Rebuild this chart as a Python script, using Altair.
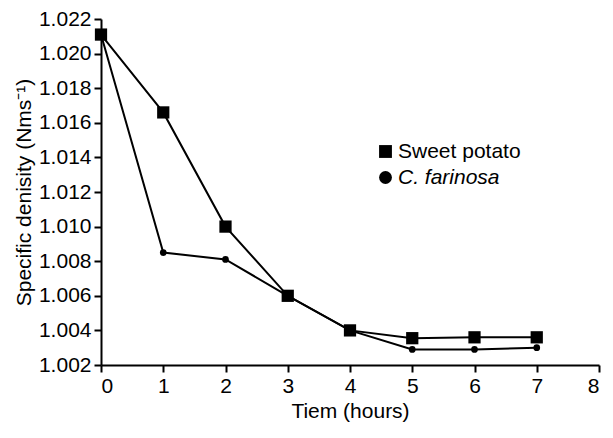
import altair as alt
import pandas as pd

hours = [0, 1, 2, 3, 4, 5, 6, 7]
sweet_potato = [1.0211, 1.0166, 1.0100, 1.0060, 1.0040, 1.00355, 1.00360, 1.00360]
c_farinosa = [1.0211, 1.0085, 1.0081, 1.0060, 1.0040, 1.0029, 1.0029, 1.0030]
series_names = ["Sweet potato", "C. farinosa"]
x_ticks = [0, 1, 2, 3, 4, 5, 6, 7, 8]
y_ticks = [1.002, 1.004, 1.006, 1.008, 1.010, 1.012, 1.014, 1.016, 1.018, 1.020, 1.022]

rows = []
for h, v in zip(hours, sweet_potato):
    rows.append({"hours": h, "density": v, "series": series_names[0]})
for h, v in zip(hours, c_farinosa):
    rows.append({"hours": h, "density": v, "series": series_names[1]})
df = pd.DataFrame(rows)

FONT = "Liberation Sans"
FS = 21

x = alt.X("hours:Q", scale=alt.Scale(domain=[0, 8], nice=False),
          axis=alt.Axis(values=x_ticks, format="d", title="Tiem (hours)", grid=False))
y = alt.Y("density:Q", scale=alt.Scale(domain=[1.002, 1.022], nice=False, zero=False),
          axis=alt.Axis(values=y_ticks, format=".3f", title="Specific denisity (Nms⁻¹)", grid=False))

shape = alt.Shape("series:N",
                  scale=alt.Scale(domain=series_names, range=["square", "circle"]),
                  legend=alt.Legend(
                      title=None, orient="none", legendX=274, legendY=122,
                      symbolSize=165, symbolFillColor="black", symbolStrokeColor="black",
                      symbolOpacity=1,
                      labelFontSize=FS, labelFont=FONT, labelColor="black",
                      labelFontStyle=alt.ExprRef("datum.label == 'C. farinosa' ? 'italic' : 'normal'"),
                      rowPadding=4, labelOffset=2, padding=0))

lines = alt.Chart(df).mark_line(color="black", strokeWidth=2).encode(
    x=x, y=y, detail="series:N"
)

points_sp = alt.Chart(df).transform_filter(
    alt.datum.series == series_names[0]
).mark_point(filled=True, color="black", opacity=1, size=150).encode(x=x, y=y, shape=shape)

points_cf = alt.Chart(df).transform_filter(
    alt.datum.series == series_names[1]
).mark_point(filled=True, color="black", opacity=1, size=45).encode(x=x, y=y, shape=shape)

chart = (lines + points_sp + points_cf).properties(
    width=498, height=346,
    autosize=alt.AutoSizeParams(type="none"),
    padding={"left": 93, "top": 11, "right": 4, "bottom": 57},
).configure_view(stroke=None).configure_axis(
    domainColor="black", domainWidth=2, tickColor="black", tickWidth=2, tickSize=7,
    labelFont=FONT, labelFontSize=FS, labelColor="black", labelPadding=3,
    titleFont=FONT, titleFontSize=FS, titleFontWeight="normal", titleColor="black",
    titlePadding=4,
)

chart.save("out.html", embed_options={"renderer": "svg", "actions": False})
